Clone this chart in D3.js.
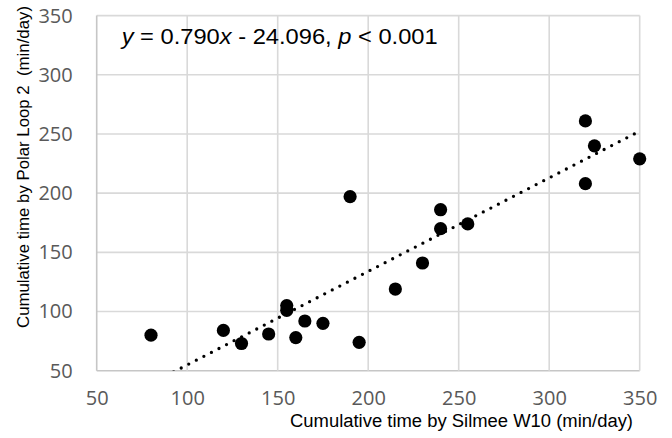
<!DOCTYPE html>
<html>
<head>
<meta charset="utf-8">
<script src="https://cdn.jsdelivr.net/npm/d3@7"></script>
<style>
html,body{margin:0;padding:0;background:#fff;}
svg{display:block;}
</style>
</head>
<body>
<svg id="chart" width="672" height="438"></svg>
<script>
// Data (Silmee W10 vs Polar Loop 2, min/day)
const silmee = [80, 120, 130, 145, 155, 155, 160, 165, 175, 190, 195, 215, 230, 240, 240, 255, 320, 320, 325, 350];
const polar  = [80, 84, 73, 81, 105, 101, 78, 92, 90, 197, 74, 119, 141, 186, 170, 174, 261, 208, 240, 229];
const xTicks = [50, 100, 150, 200, 250, 300, 350];
const yTicks = [50, 100, 150, 200, 250, 300, 350];
const slope = 0.790, intercept = -24.096;
const trendRange = [80, 350];

const svg = d3.select("#chart");
const x = d3.scaleLinear().domain([50, 350]).range([96.7, 639.7]);
const y = d3.scaleLinear().domain([50, 350]).range([370.7, 15.6]);

svg.append("defs").append("clipPath").attr("id","plotclip")
  .append("rect").attr("x", x(50)).attr("y", y(350))
  .attr("width", x(350)-x(50)).attr("height", y(50)-y(350));

// gridlines
const grid = svg.append("g");
grid.selectAll("line.h").data(yTicks).join("line")
  .attr("x1", x(50)).attr("x2", x(350))
  .attr("y1", d => y(d)).attr("y2", d => y(d))
  .attr("stroke", d => d === 50 ? "#c6c6c6" : "#d9d9d9").attr("stroke-width", 1.6);
grid.selectAll("line.v").data(xTicks).join("line")
  .attr("y1", y(50)).attr("y2", y(350))
  .attr("x1", d => x(d)).attr("x2", d => x(d))
  .attr("stroke", d => d === 50 ? "#c6c6c6" : "#d9d9d9").attr("stroke-width", 1.6);

// axes labels via d3 axes
const yAxis = svg.append("g").attr("transform", `translate(${x(50)},0)`)
  .call(d3.axisLeft(y).tickValues(yTicks).tickSize(0).tickPadding(24));
const xAxis = svg.append("g").attr("transform", `translate(0,${y(50)})`)
  .call(d3.axisBottom(x).tickValues(xTicks).tickSize(0).tickPadding(20));
[yAxis, xAxis].forEach(g => {
  g.select(".domain").remove();
  g.selectAll("text").attr("font-family", "'Open Sans', sans-serif")
    .attr("font-size", 20).attr("fill", "#595959");
});

// points
svg.append("g").selectAll("circle").data(silmee.map((d,i)=>[d, polar[i]])).join("circle")
  .attr("cx", d => x(d[0])).attr("cy", d => y(d[1])).attr("r", 6.6).attr("fill", "#000");

// dotted trendline
svg.append("line")
  .attr("clip-path", "url(#plotclip)")
  .attr("x1", x(trendRange[0])).attr("y1", y(slope*trendRange[0]+intercept))
  .attr("x2", x(trendRange[1])).attr("y2", y(slope*trendRange[1]+intercept))
  .attr("stroke", "#000").attr("stroke-width", 3.3)
  .attr("stroke-linecap", "round").attr("stroke-dasharray", "0 8.5");

function fit(sel, len){
  sel.attr("textLength", len).attr("lengthAdjust", "spacingAndGlyphs");
}

// equation text
const eq = svg.append("text").attr("x", 121.7).attr("y", 44)
  .attr("font-family", "'Liberation Sans', Arial, sans-serif").attr("font-size", 22).attr("fill", "#000");
eq.append("tspan").attr("font-style","italic").text("y");
eq.append("tspan").text(" = 0.790");
eq.append("tspan").attr("font-style","italic").text("x");
eq.append("tspan").text(" - 24.096, ");
eq.append("tspan").attr("font-style","italic").text("p");
eq.append("tspan").text(" < 0.001");
fit(eq, 316);

// axis titles
const xt = svg.append("text").attr("x", 290).attr("y", 427)
  .attr("font-family", "'Liberation Sans', Arial, sans-serif").attr("font-size", 18).attr("fill", "#000")
  .text("Cumulative time by Silmee W10 (min/day)");
fit(xt, 343);
const yt = svg.append("text").attr("transform", "translate(29,328) rotate(-90)")
  .attr("font-family", "'Liberation Sans', Arial, sans-serif").attr("font-size", 17).attr("fill", "#000")
  .attr("xml:space","preserve")
  .text("Cumulative time by Polar Loop 2  (min/day)");
fit(yt, 322);
</script>
</body>
</html>
